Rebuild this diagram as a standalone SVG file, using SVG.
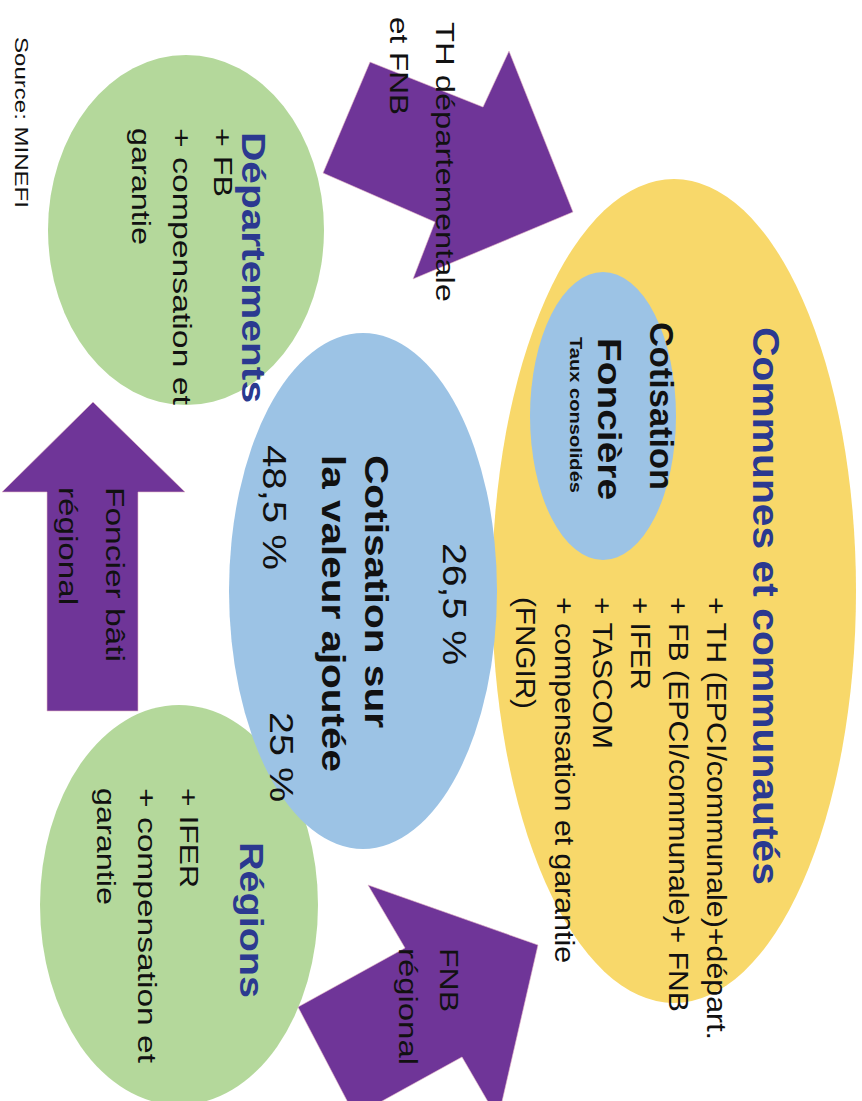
<svg xmlns="http://www.w3.org/2000/svg" width="862" height="1101" viewBox="0 0 862 1101">
<style>
text{font-family:"Liberation Sans",Arial,sans-serif;fill:#111}
.b{font-weight:bold}
.t{fill:#2b3990;font-weight:bold}
.g{fill:#b4d89b}
.y{fill:#f8d86a}
.bl{fill:#9cc3e5}
.arr{fill:#6f3598;stroke:#e8b8c8;stroke-width:0.6}
</style>
<rect width="862" height="1101" fill="#fff"/>
<defs><g id="r"/></defs>

<g id="departements">
<ellipse class="g" cx="186" cy="230" rx="138" ry="175"/>
<g transform="translate(862,0) rotate(90)">
<text class="t" x="132" y="620" font-size="33" textLength="271" lengthAdjust="spacingAndGlyphs">Départements</text>
<text x="128" y="648" font-size="26" textLength="69" lengthAdjust="spacingAndGlyphs">+ FB</text>
<text x="128" y="689" font-size="26" textLength="277" lengthAdjust="spacingAndGlyphs">+ compensation et</text>
<text x="128" y="730" font-size="26" textLength="117" lengthAdjust="spacingAndGlyphs">garantie</text>
</g>
</g>

<g id="regions">
<ellipse class="g" cx="179" cy="905" rx="139" ry="200"/>
<g transform="translate(862,0) rotate(90)">
<text class="t" x="842" y="622" font-size="33" textLength="156" lengthAdjust="spacingAndGlyphs">Régions</text>
<text x="788" y="682" font-size="26" textLength="100" lengthAdjust="spacingAndGlyphs">+ IFER</text>
<text x="788" y="724" font-size="26" textLength="275" lengthAdjust="spacingAndGlyphs">+ compensation et</text>
<text x="788" y="765" font-size="26" textLength="117" lengthAdjust="spacingAndGlyphs">garantie</text>
</g>
</g>

<g id="communes">
<ellipse class="y" cx="674" cy="591" rx="182" ry="412"/>
<g transform="translate(862,0) rotate(90)">
<text class="t" x="327" y="109" font-size="36" textLength="558" lengthAdjust="spacingAndGlyphs">Communes et communautés</text>
<text x="597" y="155" font-size="27" textLength="443" lengthAdjust="spacingAndGlyphs">+ TH (EPCI/communale)+départ.</text>
<text x="597" y="193" font-size="27" textLength="415" lengthAdjust="spacingAndGlyphs">+ FB (EPCI/communale)+ FNB</text>
<text x="597" y="231" font-size="27" textLength="93" lengthAdjust="spacingAndGlyphs">+ IFER</text>
<text x="597" y="269" font-size="27" textLength="152" lengthAdjust="spacingAndGlyphs">+ TASCOM</text>
<text x="597" y="307" font-size="27" textLength="366" lengthAdjust="spacingAndGlyphs">+ compensation et garantie</text>
<text x="597" y="346" font-size="27" textLength="112" lengthAdjust="spacingAndGlyphs">(FNGIR)</text>
</g>
</g>

<g id="cotisation-fonciere">
<ellipse class="bl" cx="603" cy="416" rx="73" ry="144"/>
<g transform="translate(862,0) rotate(90)">
<text class="b" x="322" y="212" font-size="34" textLength="168" lengthAdjust="spacingAndGlyphs">Cotisation</text>
<text class="b" x="338" y="264" font-size="34" textLength="162" lengthAdjust="spacingAndGlyphs">Foncière</text>
<text class="b" x="337" y="292" font-size="16" textLength="156" lengthAdjust="spacingAndGlyphs">Taux consolidés</text>
</g>
</g>

<g id="cvae">
<ellipse class="bl" cx="363" cy="591" rx="134" ry="258"/>
<g transform="translate(862,0) rotate(90)">
<text x="543" y="419" font-size="33" textLength="122" lengthAdjust="spacingAndGlyphs">26,5 %</text>
<text class="b" x="455" y="497" font-size="33" textLength="273" lengthAdjust="spacingAndGlyphs">Cotisation sur</text>
<text class="b" x="455" y="540" font-size="33" textLength="317" lengthAdjust="spacingAndGlyphs">la valeur ajoutée</text>
<text x="445" y="599" font-size="33" textLength="125" lengthAdjust="spacingAndGlyphs">48,5 %</text>
<text x="712" y="592" font-size="33" textLength="90" lengthAdjust="spacingAndGlyphs">25 %</text>
</g>
</g>

<g id="connectors">
<polygon class="arr" points="370,62 483,107 509,51 573,212 413,279 435,222 323,173"/>
<polygon class="arr" points="93,402 185,492 138,492 138,711 47,711 47,492 2,492"/>
<polygon class="arr" points="368,885 538,945 498,1119 462,1057 355,1116 298,1007 405,948"/>
<g transform="translate(862,0) rotate(90)">
<text x="22" y="426" font-size="26" textLength="280" lengthAdjust="spacingAndGlyphs">TH départementale</text>
<text x="17" y="472" font-size="26" textLength="98" lengthAdjust="spacingAndGlyphs">et FNB</text>
<text x="487" y="756" font-size="26" textLength="175" lengthAdjust="spacingAndGlyphs">Foncier bâti</text>
<text x="487" y="803" font-size="26" textLength="118" lengthAdjust="spacingAndGlyphs">régional</text>
<text x="948" y="422" font-size="26" textLength="64" lengthAdjust="spacingAndGlyphs">FNB</text>
<text x="948" y="463" font-size="26" textLength="117" lengthAdjust="spacingAndGlyphs">régional</text>
</g>
</g>

<g id="source" transform="translate(862,0) rotate(90)">
<text x="37" y="847" font-size="19" textLength="171" lengthAdjust="spacingAndGlyphs">Source: MINEFI</text>
</g>
</svg>
